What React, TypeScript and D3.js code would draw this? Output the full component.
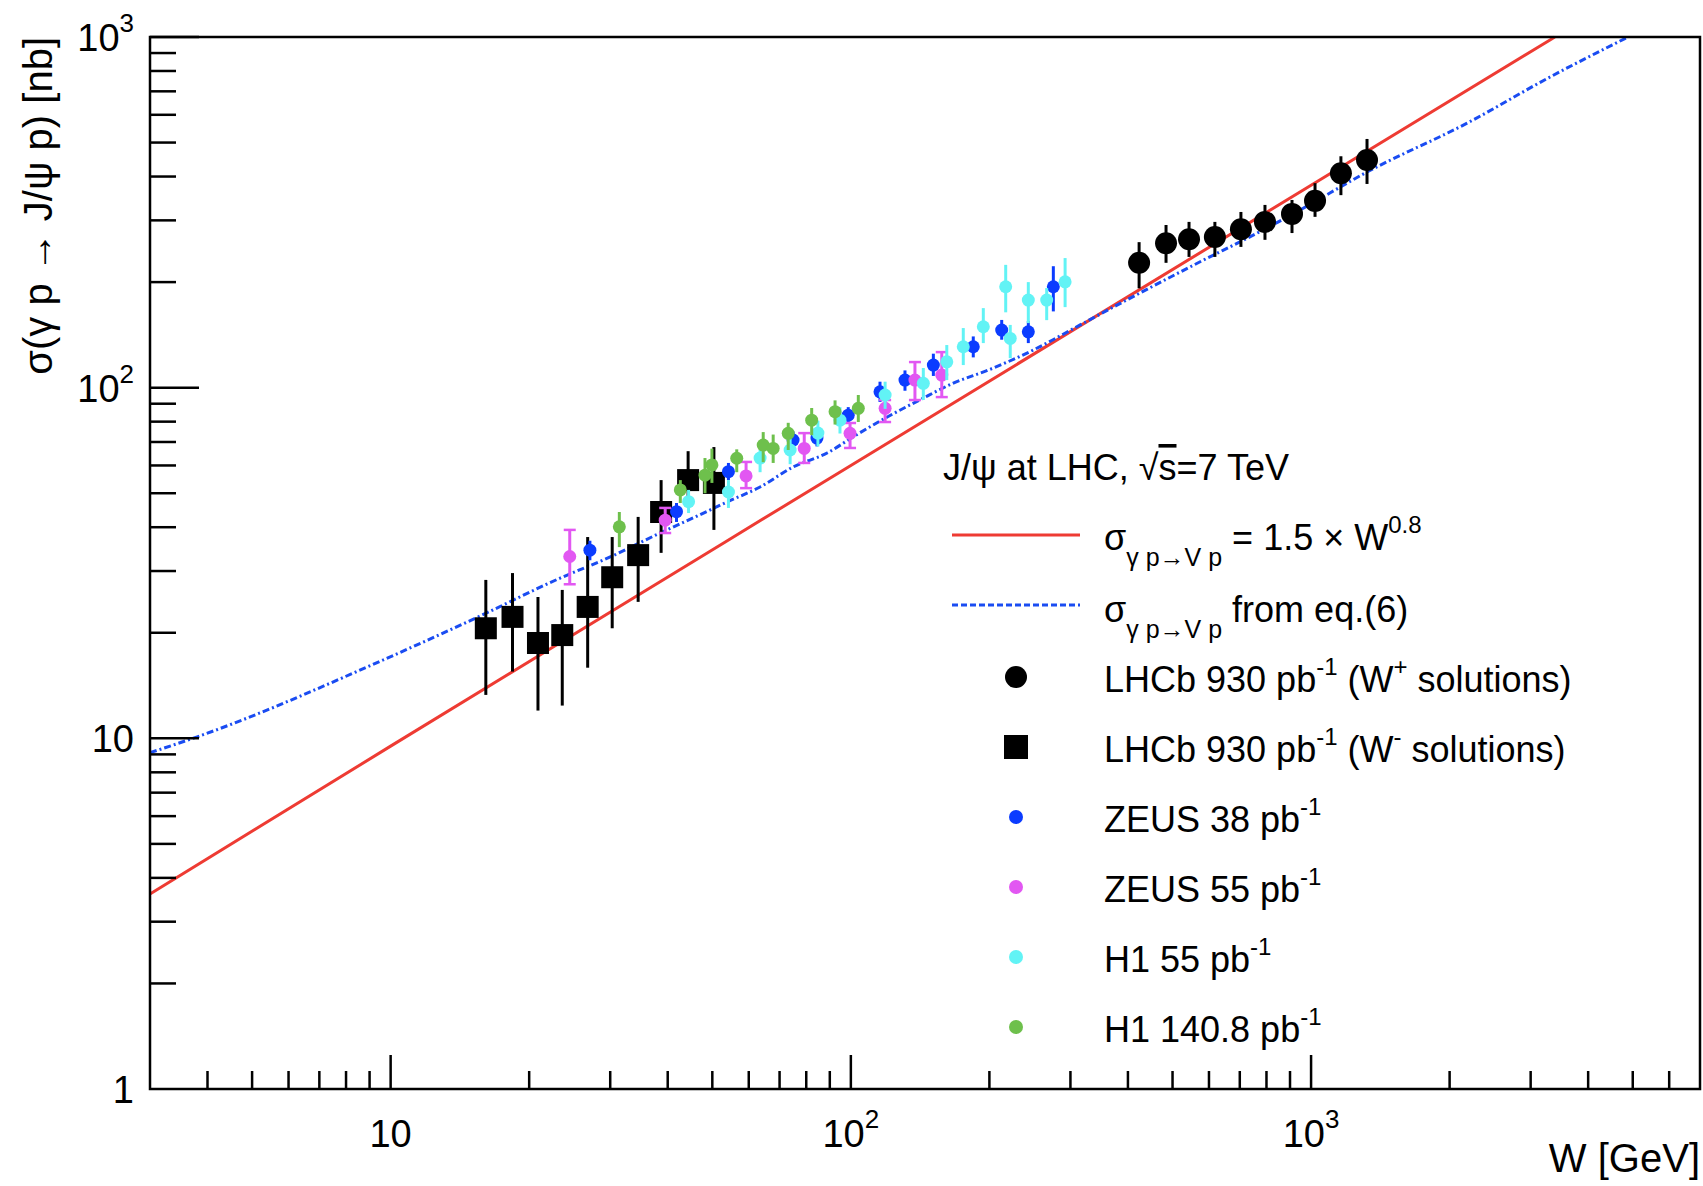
import React from 'react';
import * as d3 from 'd3';

const WIDTH = 1703;
const HEIGHT = 1186;
const FONT = '"Liberation Sans", Arial, Helvetica, sans-serif';

// frame of the plot in pixels
const left = 150;
const right = 1700;
const top = 37;
const bottom = 1089;

// red line, sigma = 1.5 x W^0.8
const redW = [3, 10, 100, 1000, 3385];
const redSigma = [3.6, 9.5, 60, 378, 1000];

// blue dash-dotted curve, sigma from eq.(6)
const blueW = [3, 3.8, 9.6, 15.5, 23.3, 30, 38.5, 45.4, 53.8, 63.5, 74.9, 88.8, 101, 120, 141, 167, 198, 249, 275, 315, 557, 786, 946, 1323, 2183, 3305, 4884];
const blueSigma = [9.1, 10.1, 16.7, 22.2, 28.6, 32.9, 38.5, 42.5, 47.2, 52.1, 59.4, 65.1, 72.3, 82.5, 92.2, 103, 112, 128, 137, 151, 224, 281.5, 321, 412, 568, 769, 1000];

// LHCb 930 pb-1, W+ solutions (circles)
const lhcbPlusW = [423, 484, 543, 618, 704, 794, 909, 1020, 1161, 1323];
const lhcbPlusSigma = [227, 258, 265, 269, 283, 297, 313, 341, 409, 446];
const lhcbPlusLo = [192, 227, 236, 236, 252, 264, 276, 307, 354, 381];
const lhcbPlusHi = [260, 291, 297, 297, 317, 332, 343, 383, 457, 512];

// LHCb 930 pb-1, W- solutions (squares)
const lhcbMinusW = [16.1, 18.4, 20.9, 23.6, 26.8, 30.3, 34.5, 38.7, 44.3, 50.4];
const lhcbMinusSigma = [20.6, 22.2, 18.7, 19.7, 23.7, 28.8, 33.3, 44.2, 54.5, 53.5];
const lhcbMinusLo = [13.3, 15.5, 12.0, 12.4, 15.9, 20.6, 24.5, 33.8, 47, 39.3];
const lhcbMinusHi = [28.3, 29.6, 25.3, 26.5, 37.5, 37.5, 42.8, 54.5, 65.9, 67.7];

// ZEUS 38 pb-1
const zeus38W = [27.1, 41.8, 54.2, 74.9, 84.4, 98.7, 115.7, 131.1, 151.1, 184.5, 212.7, 243, 275.4];
const zeus38Sigma = [34.4, 44.3, 57.6, 70.9, 71.8, 83.5, 97.3, 105.1, 116, 130.8, 146, 144.3, 194];
const zeus38Lo = [32.2, 41.4, 54.5, 67, 68, 79, 91, 98, 108, 122, 137, 134, 165];
const zeus38Hi = [36.6, 46.9, 61, 75, 76, 88, 104, 112, 125, 140, 156, 155, 222];

// ZEUS 55 pb-1
const zeus55W = [24.5, 39.5, 59.2, 79.2, 99.6, 118.7, 137.8, 157.6];
const zeus55Sigma = [33, 41.9, 56, 67.1, 74.1, 87.3, 105.1, 108.6];
const zeus55Lo = [27.5, 38.5, 51.7, 61, 67.3, 79.8, 92.2, 94];
const zeus55Hi = [39.3, 45.4, 61.4, 74.2, 79.3, 92.2, 118.3, 126.3];

// H1 55 pb-1
const h1aW = [44.4, 54.2, 63.5, 73.8, 84.8, 94.7, 118.7, 143.7, 161.6, 175.5, 194, 217, 222, 243, 266.4, 292.1];
const h1aSigma = [47.3, 50.4, 63, 66.4, 74.2, 80.8, 95.3, 102.9, 118.5, 130.8, 149.2, 194, 138.2, 177.7, 177.7, 200.4];
const h1aLo = [43.9, 45.4, 57.4, 60.5, 68, 74, 87, 92.2, 105.1, 116, 134, 164, 121.4, 152.8, 155.8, 169.7];
const h1aHi = [51.1, 54.5, 66.4, 72.5, 80.5, 88, 104, 113.8, 132.3, 147.9, 168.6, 224, 151, 200, 192.3, 234.2];

// H1 140.8 pb-1
const h1bW = [31.4, 42.6, 48.2, 49.9, 56.5, 64.5, 67.8, 73.1, 82.2, 92.4, 103.8];
const h1bSigma = [40.1, 51.1, 56.3, 60.2, 62.9, 68.6, 67.1, 74.1, 80.8, 85.4, 87.3];
const h1bLo = [35.1, 46.9, 50, 53.5, 57.4, 61.3, 61, 66.4, 73.2, 78.5, 79.8];
const h1bHi = [44.2, 54.5, 63, 67, 66.7, 74.7, 73.5, 79.4, 87.5, 92, 95.3];

const RED = '#ee3b33';
const BLUE_LINE = '#1a4cf2';
const ZEUS38_COL = '#0b3cff';
const ZEUS55_COL = '#e257f2';
const H1A_COL = '#62f3f5';
const H1B_COL = '#6ec04c';

type Pt = { w: number; s: number; lo: number; hi: number };

const zip = (w: number[], s: number[], lo: number[], hi: number[]): Pt[] =>
  w.map((v, i) => ({ w: v, s: s[i], lo: lo[i], hi: hi[i] }));

export default function App() {
  const x = d3.scaleLog().domain([3, 7000]).range([left, right]);
  const y = d3.scaleLog().domain([1, 1000]).range([bottom, top]);

  const line = d3
    .line<[number, number]>()
    .x(d => x(d[0]))
    .y(d => y(d[1]))
    .curve(d3.curveMonotoneX);

  const redPath = line(redW.map((w, i) => [w, redSigma[i]]) as [number, number][]) || '';
  const bluePath = line(blueW.map((w, i) => [w, blueSigma[i]]) as [number, number][]) || '';

  const isMajor = (v: number) => Math.abs(Math.log10(v) - Math.round(Math.log10(v))) < 1e-9;
  const xTicks = x.ticks().filter(v => v > 3 && v < 7000);
  const yTicks = y.ticks().filter(v => v > 1 && v <= 1000);

  const xLabels = [
    { v: 10, exp: '' },
    { v: 100, exp: '2' },
    { v: 1000, exp: '3' },
  ];
  const yLabels = [
    { v: 1, base: '1', exp: '' },
    { v: 10, base: '10', exp: '' },
    { v: 100, base: '10', exp: '2' },
    { v: 1000, base: '10', exp: '3' },
  ];

  const hera = [
    { pts: zip(zeus38W, zeus38Sigma, zeus38Lo, zeus38Hi), color: ZEUS38_COL, caps: false },
    { pts: zip(zeus55W, zeus55Sigma, zeus55Lo, zeus55Hi), color: ZEUS55_COL, caps: true },
    { pts: zip(h1aW, h1aSigma, h1aLo, h1aHi), color: H1A_COL, caps: false },
    { pts: zip(h1bW, h1bSigma, h1bLo, h1bHi), color: H1B_COL, caps: false },
  ];
  const squares = zip(lhcbMinusW, lhcbMinusSigma, lhcbMinusLo, lhcbMinusHi);
  const circles = zip(lhcbPlusW, lhcbPlusSigma, lhcbPlusLo, lhcbPlusHi);

  // legend
  const lgMarkX = 1016;
  const lgTextX = 1104;
  const rows = [535, 605, 677, 747, 817, 887, 957, 1027];
  const heraLegend = [
    { color: ZEUS38_COL, name: 'ZEUS 38 pb' },
    { color: ZEUS55_COL, name: 'ZEUS 55 pb' },
    { color: H1A_COL, name: 'H1 55 pb' },
    { color: H1B_COL, name: 'H1 140.8 pb' },
  ];

  return (
    <div style={{ position: 'absolute', left: 0, top: 0 }}>
      <svg width={WIDTH} height={HEIGHT} style={{ display: 'block', background: '#fff' }} fontFamily={FONT}>
        <rect width={WIDTH} height={HEIGHT} fill="#fff" />

        {/* curves */}
        <path d={redPath} fill="none" stroke={RED} strokeWidth={3} />
        <path d={bluePath} fill="none" stroke={BLUE_LINE} strokeWidth={3} strokeDasharray="7 3 2 3" />

        {/* LHCb W- squares */}
        {squares.map((p, i) => (
          <g key={'sq' + i}>
            <line x1={x(p.w)} x2={x(p.w)} y1={y(p.lo)} y2={y(p.hi)} stroke="#000" strokeWidth={3} />
            <rect x={x(p.w) - 11} y={y(p.s) - 11} width={22} height={22} fill="#000" />
          </g>
        ))}
        {/* LHCb W+ circles */}
        {circles.map((p, i) => (
          <g key={'ci' + i}>
            <line x1={x(p.w)} x2={x(p.w)} y1={y(p.lo)} y2={y(p.hi)} stroke="#000" strokeWidth={3} />
            <circle cx={x(p.w)} cy={y(p.s)} r={11} fill="#000" />
          </g>
        ))}

        {/* HERA data */}
        {hera.map((ser, si) => (
          <g key={'h' + si}>
            {ser.pts.map((p, i) => (
              <g key={i}>
                <line x1={x(p.w)} x2={x(p.w)} y1={y(p.lo)} y2={y(p.hi)} stroke={ser.color} strokeWidth={3} />
                {ser.caps && (
                  <>
                    <line x1={x(p.w) - 6} x2={x(p.w) + 6} y1={y(p.lo)} y2={y(p.lo)} stroke={ser.color} strokeWidth={2.5} />
                    <line x1={x(p.w) - 6} x2={x(p.w) + 6} y1={y(p.hi)} y2={y(p.hi)} stroke={ser.color} strokeWidth={2.5} />
                  </>
                )}
                <circle cx={x(p.w)} cy={y(p.s)} r={6.5} fill={ser.color} />
              </g>
            ))}
          </g>
        ))}

        {/* frame */}
        <rect x={left} y={top} width={right - left} height={bottom - top} fill="none" stroke="#000" strokeWidth={2.5} />

        {/* x ticks */}
        {xTicks.map(v => (
          <line key={'xt' + v} x1={x(v)} x2={x(v)} y1={bottom} y2={bottom - (isMajor(v) ? 34 : 18)} stroke="#000" strokeWidth={2.5} />
        ))}
        {/* y ticks */}
        {yTicks.map(v => (
          <line key={'yt' + v} x1={left} x2={left + (isMajor(v) ? 49 : 26)} y1={y(v)} y2={y(v)} stroke="#000" strokeWidth={2.5} />
        ))}

        {/* x tick labels */}
        {xLabels.map(l => (
          <text key={'xl' + l.v} x={x(l.v)} y={1147} fontSize={38} textAnchor="middle" fill="#000">
            10
            {l.exp && (
              <tspan dy={-19} fontSize={26}>
                {l.exp}
              </tspan>
            )}
          </text>
        ))}
        {/* y tick labels */}
        {yLabels.map(l => (
          <text key={'yl' + l.v} x={134} y={y(l.v) + 14} fontSize={38} textAnchor="end" fill="#000">
            {l.base}
            {l.exp && (
              <tspan dy={-19} fontSize={26}>
                {l.exp}
              </tspan>
            )}
          </text>
        ))}

        {/* axis titles */}
        <text x={right} y={1172} fontSize={40} textAnchor="end" fill="#000">
          W [GeV]
        </text>
        <text transform="rotate(-90)" x={-top} y={52} fontSize={40} textAnchor="end" fill="#000">
          σ(γ p → J/ψ p) [nb]
        </text>

        {/* legend */}
        <text x={943} y={480} fontSize={36} fill="#000">
          J/ψ at LHC, √<tspan style={{ textDecoration: 'overline' }}>s</tspan>=7 TeV
        </text>

        <line x1={952} x2={1080} y1={rows[0]} y2={rows[0]} stroke={RED} strokeWidth={3} />
        <text x={lgTextX} y={rows[0] + 15} fontSize={36} fill="#000">
          σ
          <tspan dy={16} fontSize={25}>
            γ p→V p
          </tspan>
          <tspan dy={-16} fontSize={36}>
            {' '}= 1.5 × W
          </tspan>
          <tspan dy={-17} fontSize={24}>
            0.8
          </tspan>
        </text>

        <line x1={952} x2={1080} y1={rows[1]} y2={rows[1]} stroke={BLUE_LINE} strokeWidth={3} strokeDasharray="6 3" />
        <text x={lgTextX} y={rows[1] + 17} fontSize={36} fill="#000">
          σ
          <tspan dy={16} fontSize={25}>
            γ p→V p
          </tspan>
          <tspan dy={-16} fontSize={36}>
            {' '}from eq.(6)
          </tspan>
        </text>

        <circle cx={lgMarkX} cy={rows[2]} r={11} fill="#000" />
        <text x={lgTextX} y={rows[2] + 15} fontSize={36} fill="#000">
          LHCb 930 pb
          <tspan dy={-17} fontSize={24}>
            -1
          </tspan>
          <tspan dy={17} fontSize={36}>
            {' '}(W
          </tspan>
          <tspan dy={-17} fontSize={24}>
            +
          </tspan>
          <tspan dy={17} fontSize={36}>
            {' '}solutions)
          </tspan>
        </text>

        <rect x={lgMarkX - 12} y={rows[3] - 12} width={24} height={24} fill="#000" />
        <text x={lgTextX} y={rows[3] + 15} fontSize={36} fill="#000">
          LHCb 930 pb
          <tspan dy={-17} fontSize={24}>
            -1
          </tspan>
          <tspan dy={17} fontSize={36}>
            {' '}(W
          </tspan>
          <tspan dy={-17} fontSize={24}>
            -
          </tspan>
          <tspan dy={17} fontSize={36}>
            {' '}solutions)
          </tspan>
        </text>

        {heraLegend.map((h, i) => (
          <g key={'lg' + i}>
            <circle cx={lgMarkX} cy={rows[4 + i]} r={7} fill={h.color} />
            <text x={lgTextX} y={rows[4 + i] + 15} fontSize={36} fill="#000">
              {h.name}
              <tspan dy={-17} fontSize={24}>
                -1
              </tspan>
            </text>
          </g>
        ))}
      </svg>
    </div>
  );
}
